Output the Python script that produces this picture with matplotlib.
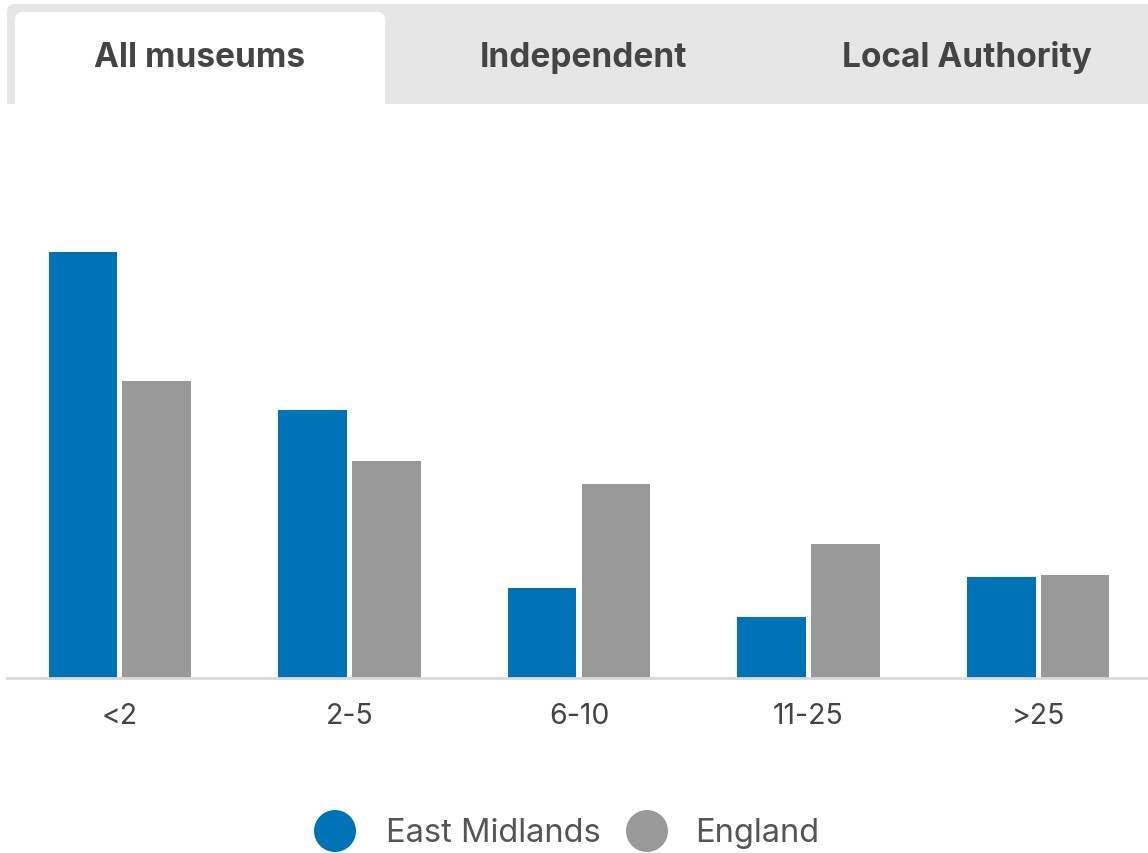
import numpy as np
import matplotlib.pyplot as plt
from matplotlib.patches import FancyBboxPatch, Rectangle, Circle

# share of museums by number of paid staff (%)
categories = ['<2', '2-5', '6-10', '11-25', '>25']
east_midlands = [45.1, 28.3, 9.5, 6.5, 10.7]
england = [31.4, 23.0, 20.5, 14.2, 10.9]
tabs = ['All museums', 'Independent', 'Local Authority']
series_names = ['East Midlands', 'England']

blue = '#0072b6'
grey = '#999999'
font = ['Inter', 'DejaVu Sans']

W, H = 1148, 854
fig = plt.figure(figsize=(W / 100, H / 100), dpi=100)

# bar chart area
ax = fig.add_axes([7 / W, (H - 679) / H, (W - 7) / W, (679 - 106) / H])
x = np.arange(len(categories))
bw = 0.30
off = 0.161
ax.bar(x - off, east_midlands, bw, color=blue, zorder=2)
ax.bar(x + off, england, bw, color=grey, zorder=2)
ax.set_xlim(-0.492, 4.479)
ax.set_ylim(0, 60.6)
ax.set_yticks([])
ax.set_xticks(x)
ax.set_xticklabels(categories, fontsize=20.5, color='#444444', family=font)
ax.tick_params(axis='x', length=0, pad=17)
for s in ['top', 'right', 'left']:
    ax.spines[s].set_visible(False)
ax.spines['bottom'].set_color('#d9d9d9')
ax.spines['bottom'].set_linewidth(2)
ax.spines['bottom'].set_zorder(3)

# overlay in pixel coordinates for the tab strip
ov = fig.add_axes([0, 0, 1, 1], zorder=-1)
ov.set_xlim(0, W)
ov.set_ylim(H, 0)
ov.axis('off')

ov.add_patch(FancyBboxPatch((7, 5), W - 7 + 20, 100 + 20,
                            boxstyle='round,pad=0,rounding_size=8',
                            fc='#e6e6e6', ec='none'))
ov.add_patch(FancyBboxPatch((15, 13), 370, 110,
                            boxstyle='round,pad=0,rounding_size=8',
                            fc='white', ec='none'))
ov.add_patch(Rectangle((0, 105), W, 40, fc='white', ec='none'))

tab_x = [200, 583, 967]
for t, tx in zip(tabs, tab_x):
    ov.text(tx, 58, t, ha='center', va='center', fontsize=24,
            fontweight='bold', color='#444444', family=font)

# legend
ov2 = fig.add_axes([0, 0, 1, 1], zorder=5)
ov2.set_xlim(0, W)
ov2.set_ylim(H, 0)
ov2.axis('off')
for name, c, cx, tx in zip(series_names, [blue, grey], [335, 647], [386, 695]):
    ov2.add_patch(Circle((cx, 832), 21, fc=c, ec='none'))
    ov2.text(tx, 834, name, ha='left', va='center', fontsize=23.5,
             color='#555555', family=font)

fig.savefig('out.png', dpi=100)
